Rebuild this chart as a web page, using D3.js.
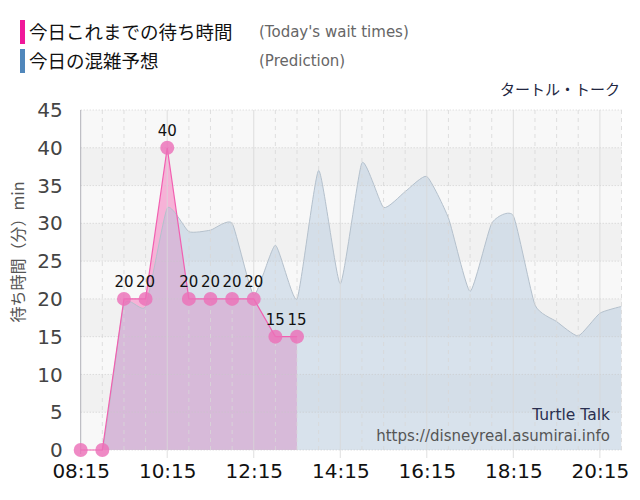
<!DOCTYPE html>
<html><head><meta charset="utf-8">
<script src="https://cdn.jsdelivr.net/npm/d3@7/dist/d3.min.js"></script>
<style>body{margin:0;background:#fff}svg{display:block}</style>
</head><body>
<svg id="c" width="640" height="500"></svg>
<script>
const waitTimes = ["08:15","08:45","09:15","09:45","10:15","10:45","11:15","11:45","12:15","12:45","13:15"];
const waitValues = [0,0,20,20,40,20,20,20,20,15,15];
const predTimes = ["08:15","08:45","09:15","09:45","10:15","10:45","11:15","11:45","12:15","12:45","13:15","13:45","14:15","14:45","15:15","15:45","16:15","16:45","17:15","17:45","18:15","18:45","19:15","19:45","20:15","20:45"];
const predValues = [0,0,19.2,19,32,28.9,29.1,30,20.5,27.1,20,37,22,38,32.1,34.2,36.2,30.7,21,30,31,19.2,17,15.1,18.1,19];
const xTickLabels = ["08:15","10:15","12:15","14:15","16:15","18:15","20:15"];
const yTicks = [0,5,10,15,20,25,30,35,40,45];
const legendJa = ["今日これまでの待ち時間","今日の混雑予想"];
const legendEn = ["(Today's wait times)","(Prediction)"];
const title = "タートル・トーク";
const yLabel = "待ち時間（分）min";
const watermark = ["Turtle Talk","https://disneyreal.asumirai.info"];

const toMin = s => { const [h,m] = s.split(":").map(Number); return h*60+m; };
const svg = d3.select("#c");
const L = 80.7, R = 621.5, T = 110, B = 450;
const x = d3.scaleLinear().domain([toMin("08:15"), toMin("20:45")]).range([L, R]);
const y = d3.scaleLinear().domain([0,45]).range([B, T]);
const latin = "DejaVu Sans, Verdana, sans-serif";
const cjk = "'Noto Sans CJK JP', sans-serif";

svg.append("clipPath").attr("id","plot").append("rect")
  .attr("x",L).attr("y",T-1).attr("width",R-L).attr("height",B-T+1);

// background bands
const g = svg.append("g");
g.append("rect").attr("x",L).attr("y",T).attr("width",R-L).attr("height",B-T).attr("fill","#f8f8f8");
for (let i=0;i<yTicks.length-1;i++){
  if (i%2===1) g.append("rect").attr("x",L).attr("y",y(yTicks[i+1])).attr("width",R-L)
    .attr("height",y(yTicks[i])-y(yTicks[i+1])).attr("fill","#f1f1f1");
}

const wait = waitTimes.map((t,i)=>({t:toMin(t),v:waitValues[i]}));
const pred = predTimes.map((t,i)=>({t:toMin(t),v:predValues[i]}));
const curve = d3.curveCardinal.tension(0.5);

const plot = svg.append("g").attr("clip-path","url(#plot)");
// wait area (under)
plot.append("path").datum(wait)
  .attr("d", d3.area().x(d=>x(d.t)).y0(y(0)).y1(d=>y(d.v)))
  .attr("fill","#f6b2d7");
// prediction area over
plot.append("path").datum(pred)
  .attr("d", d3.area().curve(curve).x(d=>x(d.t)).y0(y(0)).y1(d=>y(d.v)))
  .attr("fill","rgba(174,197,220,0.43)");
plot.append("path").datum(pred)
  .attr("d", d3.line().curve(curve).x(d=>x(d.t)).y(d=>y(d.v)))
  .attr("fill","none").attr("stroke","#b4c0cc").attr("stroke-width",1);

// grid
const grid = svg.append("g");
yTicks.forEach(v=>{
  grid.append("line").attr("x1",L).attr("x2",R).attr("y1",y(v)).attr("y2",y(v))
    .attr("stroke","#c8c8c8").attr("stroke-dasharray","1,2").attr("stroke-opacity",0.8);
});
const majors = xTickLabels.map(toMin);
for (let t=toMin("08:15")+30; t<=toMin("20:45"); t+=30){
  if (majors.includes(t)) {
    grid.append("line").attr("x1",x(t)).attr("x2",x(t)).attr("y1",T).attr("y2",B+8)
      .attr("stroke","#d8d8d8").attr("stroke-opacity",0.8);
  } else {
    grid.append("line").attr("x1",x(t)).attr("x2",x(t)).attr("y1",T).attr("y2",B)
      .attr("stroke","#d8d8d8").attr("stroke-dasharray","4,4").attr("stroke-opacity",0.8);
  }
}
grid.append("line").attr("x1",L).attr("x2",L).attr("y1",T).attr("y2",B+4).attr("stroke","#b0b0b8");

// wait line
svg.append("path").datum(wait)
  .attr("d", d3.line().x(d=>x(d.t)).y(d=>y(d.v)))
  .attr("fill","none").attr("stroke","#f25fb0").attr("stroke-width",1.2);
svg.append("g").selectAll("circle").data(wait).join("circle")
  .attr("cx",d=>x(d.t)).attr("cy",d=>y(d.v)).attr("r",7)
  .attr("fill","#eb70b8").attr("fill-opacity",0.82);
svg.append("g").selectAll("text").data(wait.filter(d=>d.v>0)).join("text")
  .attr("x",d=>x(d.t)).attr("y",d=>y(d.v)-12).attr("text-anchor","middle")
  .attr("font-family",latin).attr("font-size",15).attr("fill","#111").text(d=>d.v);

// axes
const yAxis = svg.append("g").attr("transform",`translate(${L-18},0)`)
  .call(d3.axisLeft(y).tickValues(yTicks).tickSize(0).tickPadding(0));
yAxis.select(".domain").remove();
yAxis.selectAll("text").attr("font-family",latin).attr("font-size",20).attr("fill","#444").attr("dy","0.33em");
const xAxis = svg.append("g").attr("transform",`translate(0,${B})`)
  .call(d3.axisBottom(x).tickValues(majors).tickFormat((d,i)=>xTickLabels[i]).tickSize(0).tickPadding(14));
xAxis.select(".domain").remove();
xAxis.selectAll("text").attr("font-family",latin).attr("font-size",20).attr("fill","#111");

// y label
svg.append("text").attr("transform","translate(24,252) rotate(-90)").attr("text-anchor","middle")
  .attr("font-family",cjk).attr("font-size",16).attr("fill","#555").text(yLabel);

// legend
const legColors = ["#f0189a","#5087bb"];
legendJa.forEach((s,i)=>{
  const yy = 20 + i*29;
  svg.append("rect").attr("x",20).attr("y",yy).attr("width",5).attr("height",24).attr("fill",legColors[i]);
  svg.append("text").attr("x",29).attr("y",yy+19).attr("font-family",cjk).attr("font-size",18.5).attr("fill","#111").text(s);
  svg.append("text").attr("x",259).attr("y",yy+17).attr("font-family",latin).attr("font-size",15).attr("fill","#666").text(legendEn[i]);
});
svg.append("text").attr("x",620).attr("y",95).attr("text-anchor","end")
  .attr("font-family",cjk).attr("font-size",15).attr("fill","#222640").text(title);

svg.append("text").attr("x",610).attr("y",420).attr("text-anchor","end")
  .attr("font-family",latin).attr("font-size",15.5).attr("fill","#2a2f50").text(watermark[0]);
svg.append("text").attr("x",610).attr("y",441).attr("text-anchor","end")
  .attr("font-family",latin).attr("font-size",15).attr("fill","#555").text(watermark[1]);
</script>
</body></html>
